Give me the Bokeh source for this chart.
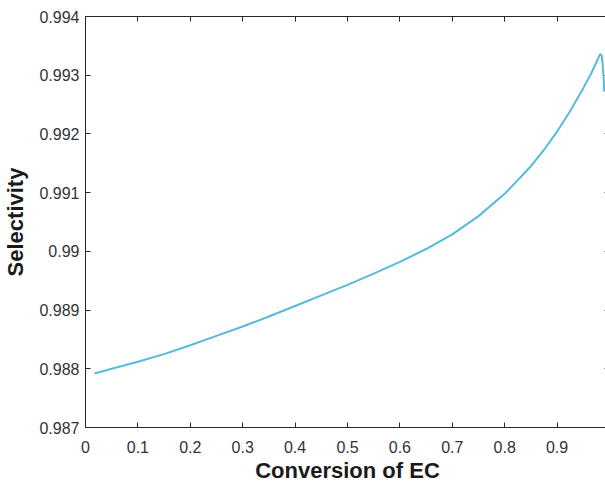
from bokeh.plotting import figure
from bokeh.models import LinearAxis, FixedTicker, CustomJSTickFormatter, Range1d
from bokeh.embed import file_html
from bokeh.resources import INLINE

# Data
conversion = [0.017, 0.05, 0.10, 0.15, 0.20, 0.25, 0.30, 0.35, 0.40, 0.45,
              0.50, 0.55, 0.60, 0.65, 0.70, 0.75, 0.80, 0.85, 0.875, 0.90,
              0.925, 0.95, 0.965, 0.975, 0.982, 0.985, 0.987, 0.989, 0.990]
selectivity = [0.98792, 0.98800, 0.98812, 0.98825, 0.98840, 0.98856, 0.98872, 0.98889,
               0.98907, 0.98925, 0.98943, 0.98962, 0.98982, 0.99004, 0.99029, 0.99060,
               0.99098, 0.99145, 0.99173, 0.99204, 0.99239, 0.99278, 0.99303, 0.99322,
               0.99336, 0.99334, 0.99318, 0.99292, 0.99272]

x_ticks = [0, 0.1, 0.2, 0.3, 0.4, 0.5, 0.6, 0.7, 0.8, 0.9]
x_tick_labels = ["0", "0.1", "0.2", "0.3", "0.4", "0.5", "0.6", "0.7", "0.8", "0.9"]
y_ticks = [0.987, 0.988, 0.989, 0.990, 0.991, 0.992, 0.993, 0.994]
y_tick_labels = ["0.987", "0.988", "0.989", "0.99", "0.991", "0.992", "0.993", "0.994"]

x_title = "Conversion of EC"
y_title = "Selectivity"

AX = "#262626"
FONT = "Liberation Sans"

p = figure(width=609, height=485, output_backend="svg", toolbar_location=None,
           x_range=Range1d(0, 1.0), y_range=Range1d(0.987, 0.994),
           min_border_left=78, min_border_right=0, min_border_top=16, min_border_bottom=54)
p.outline_line_color = None
p.xgrid.visible = False
p.ygrid.visible = False
p.background_fill_color = "white"

p.line(conversion, selectivity, line_color="#56BADB", line_width=2)

for ax, ticks, labels in ((p.xaxis[0], x_ticks, x_tick_labels), (p.yaxis[0], y_ticks, y_tick_labels)):
    ax.ticker = FixedTicker(ticks=ticks)
    ax.major_label_overrides = {t: l for t, l in zip(ticks, labels)}
    ax.major_tick_in = 5
    ax.major_tick_out = 0
    ax.minor_tick_line_color = None
    ax.axis_line_color = AX
    ax.major_tick_line_color = AX
    ax.major_label_text_font = FONT
    ax.major_label_text_font_size = "16px"
    ax.major_label_text_color = "#333333"
    ax.axis_label_text_font = FONT
    ax.axis_label_text_font_size = "22px"
    ax.axis_label_text_font_style = "bold"
    ax.axis_label_text_color = "#1a1a1a"

p.xaxis[0].axis_label = x_title
p.yaxis[0].axis_label = y_title
p.xaxis[0].major_label_standoff = 13
p.xaxis[0].axis_label_standoff = 2
p.yaxis[0].major_label_standoff = 6
p.yaxis[0].axis_label_standoff = 8

top = LinearAxis(ticker=FixedTicker(ticks=x_ticks), formatter=CustomJSTickFormatter(code="return ''"),
                 major_tick_in=5, major_tick_out=0, minor_tick_line_color=None,
                 axis_line_color=AX, major_tick_line_color=AX,
                 major_label_text_font_size="0px", major_label_standoff=0)
p.add_layout(top, "above")
right = LinearAxis(ticker=FixedTicker(ticks=y_ticks), formatter=CustomJSTickFormatter(code="return ''"),
                   major_tick_in=5, major_tick_out=0, minor_tick_line_color=None,
                   axis_line_color=AX, major_tick_line_color=AX,
                   major_label_text_font_size="0px", major_label_standoff=0)
p.add_layout(right, "right")

open("out.html", "w").write(file_html(p, INLINE))
